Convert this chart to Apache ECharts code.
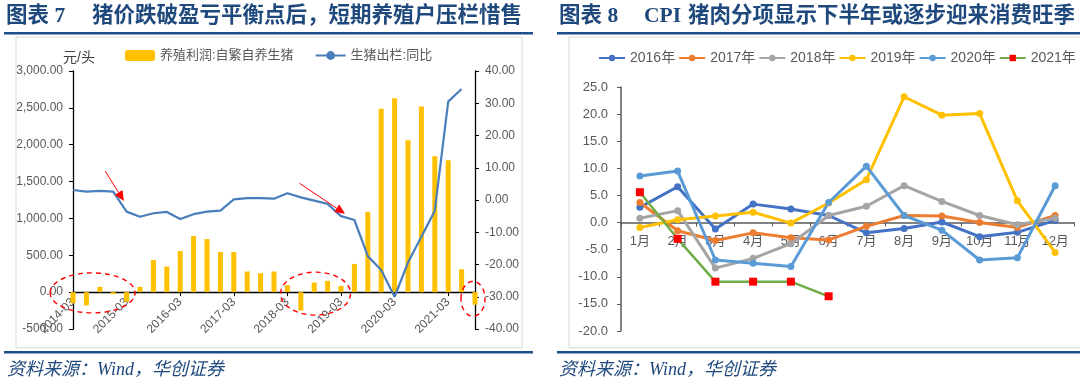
<!DOCTYPE html>
<html>
<head>
<meta charset="utf-8">
<script src="https://cdn.jsdelivr.net/npm/echarts@6/dist/echarts.min.js"></script>
<style>
html,body{margin:0;padding:0;background:#fff;}
#c{width:1080px;height:387px;}
</style>
</head>
<body>
<div id="c"></div>
<script>
// ---------- Chart 7 data ----------
const quarters = ['2014-03','2014-06','2014-09','2014-12','2015-03','2015-06','2015-09','2015-12',
  '2016-03','2016-06','2016-09','2016-12','2017-03','2017-06','2017-09','2017-12',
  '2018-03','2018-06','2018-09','2018-12','2019-03','2019-06','2019-09','2019-12',
  '2020-03','2020-06','2020-09','2020-12','2021-03','2021-06','2021-09'];
const profit = [-150,-180,72,-27,-130,72,437,347,558,761,720,545,545,280,257,280,95,-250,130,153,85,383,1090,2487,2631,2059,2518,1842,1788,311,-170];
const hogOutYoY = [3.1,2.6,2.8,2.6,-3.6,-5.2,-4.1,-3.7,-5.9,-4.4,-3.6,-3.3,0.2,0.6,0.6,0.4,2.1,0.8,-0.2,-1.2,-5.0,-6.2,-17.4,-21.7,-30.0,-19.4,-11.4,-3.3,30.5,34.4,null];
const leftTicks = {min:-500, max:3000, interval:500};
const rightTicks = {min:-40, max:40, interval:10};

// ---------- Chart 8 data ----------
const months = ['1月','2月','3月','4月','5月','6月','7月','8月','9月','10月','11月','12月'];
const y2016 = [2.8, 6.6, -1.2, 3.4, 2.5, 1.3, -1.9, -1.1, 0.1, -2.6, -1.8, 0.4];
const y2017 = [3.7, -1.5, -3.3, -1.9, -2.8, -3.2, -0.7, 1.3, 1.2, 0.0, -0.9, 1.3];
const y2018 = [0.8, 2.2, -8.4, -6.6, -3.9, 1.3, 3.0, 6.8, 3.9, 1.3, -0.4, 0.8];
const y2019 = [-0.9, 0.5, 1.2, 1.9, -0.1, 3.6, 7.9, 23.2, 19.8, 20.1, 4.0, -5.5];
const y2020 = [8.6, 9.5, -6.9, -7.5, -8.1, 3.7, 10.4, 1.3, -1.4, -6.9, -6.5, 6.8];
const y2021 = [5.6, -3.0, -10.9, -10.9, -10.9, -13.6];
const cpiTicks = {min:-20, max:25, interval:5};

const FONT = "'Liberation Sans','Noto Sans CJK SC',sans-serif";
const TITLE_FONT = "'Liberation Serif','Noto Sans CJK SC',serif";
const NAVY = '#1F497D';
const GRAY = '#595959';

const chart = echarts.init(document.getElementById('c'), null, {renderer:'canvas'});

function lineSeries(name, data, color, extra) {
  return Object.assign({
    name, type:'line', xAxisIndex:1, yAxisIndex:2, data,
    symbol:'circle', symbolSize:7, showSymbol:true,
    lineStyle:{color, width:3}, itemStyle:{color},
    emphasis:{disabled:true}, animation:false, z:3
  }, extra || {});
}

const titleStyle = {fontSize:21.5, fontWeight:'bold', color:NAVY, fontFamily:TITLE_FONT};
const srcStyle = {fontSize:18, fontStyle:'italic', fontWeight:'normal', color:NAVY, fontFamily:TITLE_FONT};

const GRID0 = {left:73, top:71, width:402, height:258};
const GRID1 = {left:621, top:87, width:453, height:244};

const option = {
  animation:false,
  textStyle:{fontFamily:FONT},
  title:[
    {text:'图表 7', left:6, top:6, padding:0, textStyle:titleStyle},
    {text:'猪价跌破盈亏平衡点后，短期养殖户压栏惜售', left:92, top:6, padding:0, textStyle:titleStyle},
    {text:'图表 8', left:559, top:6, padding:0, textStyle:titleStyle},
    {text:'CPI', left:644, top:6, padding:0, textStyle:titleStyle},
    {text:'猪肉分项显示下半年或逐步迎来消费旺季', left:688, top:6, padding:0, textStyle:titleStyle},
    {text:'资料来源：Wind，华创证券', left:7, top:361, padding:0, textStyle:srcStyle},
    {text:'资料来源：Wind，华创证券', left:559, top:361, padding:0, textStyle:srcStyle}
  ],
  legend:[
    {
      left:125, top:49, padding:0, itemWidth:30, itemHeight:11, itemGap:21,
      textStyle:{fontSize:13, color:GRAY},
      data:['养殖利润:自繁自养生猪','生猪出栏:同比']
    },
    {
      left:598, top:51, padding:0, itemWidth:26, itemHeight:8, itemGap:3,
      textStyle:{fontSize:14, color:GRAY},
      data:['2016年','2017年','2018年','2019年','2020年','2021年']
    }
  ],
  grid:[
    Object.assign({containLabel:false}, GRID0),
    Object.assign({containLabel:false}, GRID1)
  ],
  xAxis:[
    {
      type:'category', gridIndex:0, data:quarters, boundaryGap:false, position:'bottom',
      axisLine:{onZero:false, lineStyle:{color:'#000', width:1.3}},
      axisTick:{interval:3, length:4, lineStyle:{color:'#000'}},
      axisLabel:{interval:3, rotate:45, margin:8, fontSize:12, color:GRAY},
      splitLine:{show:false}
    },
    {
      type:'category', gridIndex:1, data:months, boundaryGap:true, position:'bottom',
      axisLine:{onZero:false, lineStyle:{color:GRAY, width:1.5}},
      axisTick:{show:true, length:4, lineStyle:{color:GRAY}},
      axisLabel:{margin:12, fontSize:13, color:GRAY},
      splitLine:{show:false}
    }
  ],
  yAxis:[
    {
      type:'value', gridIndex:0, position:'left',
      min:leftTicks.min, max:leftTicks.max, interval:leftTicks.interval,
      name:'元/头', nameLocation:'end', nameGap:3,
      nameTextStyle:{fontSize:14, color:'#404040', padding:[0,0,0,12]},
      axisLine:{show:true, onZero:false, lineStyle:{color:'#000', width:1.3}},
      axisTick:{show:true, length:4, lineStyle:{color:'#000'}},
      axisLabel:{margin:10, fontSize:12, color:GRAY,
        formatter:v => v.toLocaleString('en-US',{minimumFractionDigits:2, maximumFractionDigits:2})},
      splitLine:{show:false}
    },
    {
      type:'value', gridIndex:0, position:'right',
      min:rightTicks.min, max:rightTicks.max, interval:rightTicks.interval,
      axisLine:{show:true, onZero:false, lineStyle:{color:'#000', width:1.3}},
      axisTick:{show:true, length:4, lineStyle:{color:'#000'}},
      axisLabel:{margin:10, fontSize:12, color:GRAY, formatter:v => v.toFixed(2)},
      splitLine:{show:false}
    },
    {
      type:'value', gridIndex:1,
      min:cpiTicks.min, max:cpiTicks.max, interval:cpiTicks.interval,
      axisLine:{show:true, onZero:false, lineStyle:{color:GRAY, width:1.5}},
      axisTick:{show:true, length:4, lineStyle:{color:GRAY}},
      axisLabel:{margin:13, fontSize:13, color:GRAY, formatter:v => v.toFixed(1)},
      splitLine:{show:false}
    }
  ],
  series:[
    {
      name:'养殖利润:自繁自养生猪', type:'bar', xAxisIndex:0, yAxisIndex:0,
      data:profit, barWidth:5, itemStyle:{color:'#FFC000'}, z:2
    },
    {
      name:'生猪出栏:同比', type:'line', xAxisIndex:0, yAxisIndex:1,
      data:hogOutYoY, symbol:'none', lineStyle:{color:'#4A7EBB', width:2.2},
      itemStyle:{color:'#4A7EBB'}, z:3
    },
    lineSeries('2016年', y2016, '#4472C4'),
    lineSeries('2017年', y2017, '#ED7D31'),
    lineSeries('2018年', y2018, '#A5A5A5'),
    lineSeries('2019年', y2019, '#FFC000'),
    lineSeries('2020年', y2020, '#5B9BD5'),
    lineSeries('2021年', y2021, '#70AD47', {
      symbol:'rect', symbolSize:8,
      lineStyle:{color:'#70AD47', width:2.5},
      itemStyle:{color:'#FF0000'}
    })
  ]
};

chart.setOption(option);

// move each category axis (line, ticks and labels) up to the value-axis zero
const zero0 = chart.convertToPixel({seriesIndex:0}, [0, 0])[1];
const zero1 = chart.convertToPixel({seriesIndex:2}, [0, 0])[1];
chart.setOption({
  xAxis:[
    {offset: zero0 - (GRID0.top + GRID0.height)},
    {offset: zero1 - (GRID1.top + GRID1.height)}
  ]
});

// data-anchored point helper (category index may be fractional)
function px(ci, v, seriesIndex) {
  const i0 = Math.floor(ci), f = ci - i0;
  const a = chart.convertToPixel({seriesIndex}, [i0, v]);
  const b = chart.convertToPixel({seriesIndex}, [i0 + 1, v]);
  return [a[0] + (b[0] - a[0]) * f, a[1]];
}

const RED = '#FF0000';
function arrow(p0, p1) {
  const dx = p1[0] - p0[0], dy = p1[1] - p0[1];
  const len = Math.sqrt(dx*dx + dy*dy);
  const ux = dx/len, uy = dy/len;
  const hl = 10, hw = 4.5;
  const bx = p1[0] - ux*hl, by = p1[1] - uy*hl;
  return [
    {type:'line', z:20, shape:{x1:p0[0], y1:p0[1], x2:bx, y2:by}, style:{stroke:RED, lineWidth:1}},
    {type:'polygon', z:20, shape:{points:[[p1[0],p1[1]],[bx - uy*hw, by + ux*hw],[bx + uy*hw, by - ux*hw]]}, style:{fill:RED}}
  ];
}
function ellipse(c, rx, ry) {
  return {type:'ellipse', z:20, shape:{cx:c[0], cy:c[1], rx, ry},
    style:{fill:'none', stroke:RED, lineWidth:1.4, lineDash:[5,4]}};
}

const graphics = [
  {type:'rect', z:-1, shape:{x:16, y:37, width:506, height:311}, style:{fill:'none', stroke:'#D9D9D9', lineWidth:1}},
  {type:'rect', z:-1, shape:{x:569, y:37, width:520, height:311}, style:{fill:'none', stroke:'#D9D9D9', lineWidth:1}},
  {type:'rect', shape:{x:4, y:32, width:529, height:2.5}, style:{fill:'#1F4E8C'}},
  {type:'rect', shape:{x:557, y:32, width:523, height:2.5}, style:{fill:'#1F4E8C'}},
  {type:'rect', shape:{x:4, y:351, width:529, height:2.5}, style:{fill:'#1F4E8C'}},
  {type:'rect', shape:{x:557, y:351, width:523, height:2.5}, style:{fill:'#1F4E8C'}}
];
arrow(px(2.4, 9.0, 1), px(3.8, -0.3, 1)).forEach(g => graphics.push(g));
arrow(px(16.9, 5.2, 1), px(20.3, -4.3, 1)).forEach(g => graphics.push(g));
graphics.push(ellipse(px(1.46, -10, 0), 42.5, 20));
graphics.push(ellipse(px(18.1, -20, 0), 35, 21.5));
graphics.push(ellipse(px(29.85, -90, 0), 12, 17.5));

chart.setOption({graphic: graphics});
</script>
</body>
</html>
